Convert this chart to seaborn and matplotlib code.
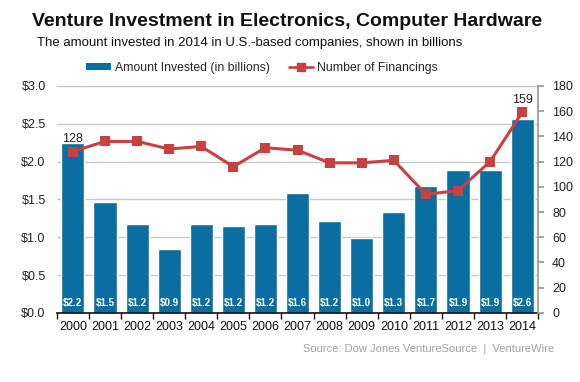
import numpy as np
import pandas as pd
import matplotlib
matplotlib.use("Agg")
import matplotlib.pyplot as plt
import seaborn as sns
from matplotlib.patches import Patch
from matplotlib.lines import Line2D

years = ["2000", "2001", "2002", "2003", "2004", "2005", "2006", "2007",
         "2008", "2009", "2010", "2011", "2012", "2013", "2014"]
amount = [2.25, 1.47, 1.18, 0.85, 1.18, 1.15, 1.18, 1.58,
          1.21, 0.99, 1.33, 1.68, 1.89, 1.89, 2.56]
amount_labels = ["$2.2", "$1.5", "$1.2", "$0.9", "$1.2", "$1.2", "$1.2", "$1.6",
                 "$1.2", "$1.0", "$1.3", "$1.7", "$1.9", "$1.9", "$2.6"]
financings = [128, 136, 136, 130, 132, 116, 131, 129,
              119, 119, 121, 94, 97, 120, 159]

sns.set_theme(style="white")
plt.rcParams['font.family'] = ['Liberation Sans', 'DejaVu Sans']

BAR = "#0a6fa0"
LINE = "#c8413f"

df = pd.DataFrame({"year": years, "amount": amount, "fin": financings,
                   "pos": np.arange(len(years))})

fig = plt.figure(figsize=(5.8, 3.82), dpi=100)
ax = fig.add_axes([0.098, 0.181, 0.830, 0.594])
ax2 = ax.twinx()

sns.barplot(data=df, x="year", y="amount", color=BAR, saturation=1,
            width=0.72, ax=ax, zorder=2)
ax.set_ylim(0, 3.0)
ax.set_yticks(np.arange(0, 3.01, 0.5))
ax.set_yticklabels([f"${v:.1f}" for v in np.arange(0, 3.01, 0.5)], fontsize=9, color="#222222")
ax.set_xlim(-0.5, len(years) - 0.5)
ax.set_xlabel("")
ax.set_ylabel("")
ax.yaxis.grid(True, color="#c8c8c8", linewidth=1)
ax.set_axisbelow(True)
for s in ["left", "top", "right"]:
    ax.spines[s].set_visible(False)
ax.spines["bottom"].set_color("#111111")
ax.spines["bottom"].set_linewidth(1.2)
ax.tick_params(axis="y", length=0, pad=8)
ax.set_xticks(np.arange(len(years)))
ax.set_xticklabels(years, fontsize=9, color="#111111")
ax.set_xticks(np.arange(-0.5, len(years), 1), minor=True)
ax.tick_params(axis="x", which="major", length=0, pad=6)
ax.tick_params(axis="x", which="minor", length=4, width=1, color="#111111", direction="out", bottom=True)

for i, lab in enumerate(amount_labels):
    ax.text(i, 0.13, lab, ha="center", va="center", color="white",
            fontsize=7, fontweight="bold", zorder=5)

sns.lineplot(data=df, x="pos", y="fin", color=LINE, linewidth=2.2,
             marker="s", markersize=7, markeredgewidth=0, ax=ax2, zorder=4)
ax2.set_ylim(0, 180)
ax2.set_yticks(np.arange(0, 181, 20))
ax2.set_yticklabels([str(v) for v in range(0, 181, 20)], fontsize=9, color="#222222")
ax2.set_xlim(-0.5, len(years) - 0.5)
ax2.set_ylabel("")
ax2.set_xlabel("")
for s in ["left", "top", "bottom"]:
    ax2.spines[s].set_visible(False)
ax2.spines["right"].set_color("#999999")
ax2.tick_params(axis="y", right=True, length=4, color="#999999", direction="out", pad=6)

ax2.text(0, financings[0] + 5, str(financings[0]), ha="center", va="bottom", fontsize=9, color="#222222")
ax2.text(14, financings[14] + 5, str(financings[14]), ha="center", va="bottom", fontsize=9, color="#222222")

fig.text(0.056, 0.945, "Venture Investment in Electronics, Computer Hardware",
         fontsize=14, fontweight="bold", color="#111111", va="center")
fig.text(0.063, 0.887, "The amount invested in 2014 in U.S.-based companies, shown in billions",
         fontsize=9.5, color="#111111", va="center")

handles = [Patch(facecolor=BAR, edgecolor="none"),
           Line2D([0], [0], color=LINE, linewidth=2, marker="s", markersize=6)]
fig.legend(handles, ["Amount Invested (in billions)", "Number of Financings"],
           loc="center", bbox_to_anchor=(0.452, 0.822), ncol=2, frameon=False,
           fontsize=8.8, handlelength=2.0, handleheight=0.5, columnspacing=1.6,
           handletextpad=0.3)

fig.text(0.955, 0.087, "Source: Dow Jones VentureSource  |  VentureWire",
         fontsize=8, color="#a0a0a0", ha="right", va="center")

fig.savefig("out.png", dpi=100)
